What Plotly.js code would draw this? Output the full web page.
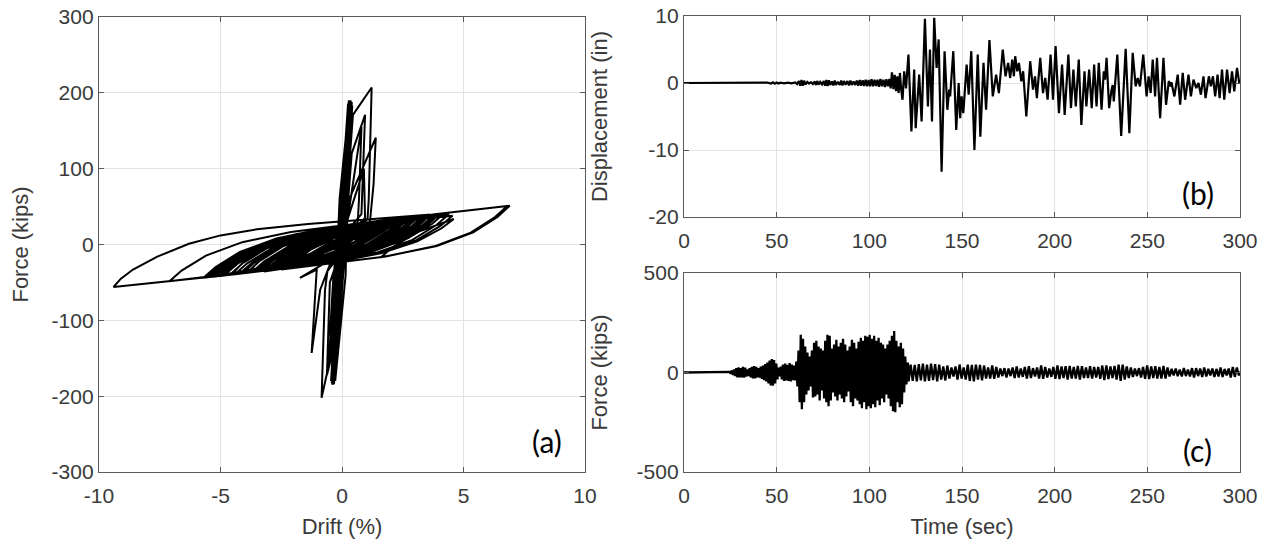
<!DOCTYPE html>
<html>
<head>
<meta charset="utf-8">
<script src="https://cdn.plot.ly/plotly-3.0.1.min.js"></script>
<style>
html,body{margin:0;padding:0;background:#fff;}
#chart{width:1270px;height:545px;}
</style>
</head>
<body>
<div id="chart"></div>
<script>
// ---------- (a) Hysteresis: [drift %, force kips] in time order ----------
var hysStiffPhase = [
[0,0],[0.02,18],[-0.02,-20],[0.03,28],[-0.03,-27],[0.05,40],[-0.04,-38],[0.07,55],[-0.06,-50],[0.09,68],[-0.08,-66],[0.06,50],[-0.06,-48],[0.05,42],[-0.05,-45],[0.07,58],[-0.08,-70],
[0.15,110],[-0.2,-150],[0.12,40],[0.28,190],[0.1,20],[-0.33,-184],[0.22,170],[-0.25,-150],[0.18,130],[-0.15,-110],[0.12,100],[-0.1,-90],[0.15,120],[-0.18,-125],[0.05,-5],[0.22,160],[-0.12,-20],[-0.2,-150],[0.3,190],[-0.08,0],[-0.3,-170],[0.1,20],[0.28,185],[-0.25,-140],[0.2,120],[-0.2,-110],[0.24,140],[-0.28,-150],[0.08,10],[0.26,165],[-0.3,-160],[0.2,130],[-0.18,-120],[0.28,170],[-0.15,-40],[-0.32,-170],[0.3,180],[-0.3,-165],[0.25,150],[-0.27,-160],[0.14,30],[0.32,189],[-0.1,-5],[-0.35,-180],[0.28,175],[-0.3,-175],[0.31,185],[-0.36,-185],[0.27,170],[-0.28,-165],[0.12,25],[0.3,178],[-0.33,-178],[0.24,150],[-0.3,-172],[0.33,188],[-0.05,10],[-0.37,-183],[0.22,140],[-0.25,-130],[0.3,185],
[0.36,185],[-0.02,-30],[-0.4,-175],[0.0,40],[0.35,180],[-0.12,-60],[-0.38,-182],[0.05,60],[0.34,186],[-0.15,-80],[-0.34,-170],[0.08,70],[0.38,188],[-0.05,-20],[-0.42,-178],[0.15,90],[0.32,175],[-0.2,-100],[-0.3,-160],[0.18,110],[0.3,170],[-0.25,-120],[-0.35,-176],[-0.05,30],[0.25,160],[0.02,-10],[-0.28,-168],[0.2,140],[0.36,190],[-0.08,-40],[-0.4,-185],[0.1,80],[0.37,186],[0.0,-50],[-0.36,-180],[0.16,60],[0.33,182],[-0.18,-40],[-0.39,-178],[0.22,100],[0.35,188],[-0.1,-110],[-0.33,-182],
[0.42,183],[0.1,-20],[-0.3,-178],[-0.12,20],[0.4,188],[0.2,30],[-0.45,-180],[0.05,90],[0.25,186],[-0.22,-30],[-0.42,-183],[-0.1,60],[0.3,187],[0.15,-40],[-0.28,-180],[0.0,80],[0.4,185],[-0.05,-80],[-0.44,-176],[0.2,110],[0.36,188],[-0.3,-120],[-0.38,-180],[0.3,150],[0.4,186]
];
var hysTransition = [
[-0.35,-178],[0.45,171],[1.22,207],[1.1,60],[1.05,33],[0.3,20],[-0.3,-25],[-0.55,-160],[-0.84,-202],[-0.7,-60],[-0.6,-35],[0.1,-5],[0.4,120],[0.95,171],[0.8,40],[0.4,25],[-0.2,-15],[-1.73,-44],[-1.04,-33],[-1.25,-143],[-0.9,-60],[-0.3,-10],[0.3,60],[1.39,141],[1.3,80],[1.15,30],[0.5,22],[-0.3,-30],[-0.45,-150],[-0.62,-172],[-0.5,-50],[0.1,5],[0.6,110],[0.8,155],[0.7,60],[0.65,30],[-0.2,-20],[-0.5,-120],[-0.35,-40],[0.2,30],[0.9,100],[0.95,35]
];
var hysSlidingPhase = [
[0.45,19.6],[-0.55,-2.0],[-1.8,-18.6],
[-1.3,-7.2],[-0.3,8.9],[1.25,24.2],[0.5,6.4],[1.0,13.5],[2.0,24.3],[3.0,31.9],
[2.5,18.8],[1.5,0.4],[0,-16.1],[-2,-28.7],[-5.15,-41.7],
[-4.65,-27.7],[-3.65,-7.9],[-2.15,9.9],[-0.15,23.4],[1.4,30.6],
[0.9,16.6],[-0.1,-3.1],[-1.6,-20.7],[-4.8,-39.2],
[-4.3,-25.4],[-3.3,-6.0],[-1.8,11.4],[0.9,27.8],
[0.4,14.0],[-0.6,-5.3],[-2.1,-22.5],[-4.1,-35.4],
[-3.6,-21.9],[-2.6,-3.0],[-1.1,14.1],[0.9,27.2],[3.9,40.2],[6.8,50.8],
[6.3,36.2],[5.3,15.7],[3.8,-2.4],[1.8,-15.8],[-2.5,-33.0],
[-2.0,-18.8],[-1.0,1.2],[0.5,19.1],[3.55,37.6],
[3.05,23.6],[2.05,3.9],[0.55,-13.6],[-1.45,-26.6],[-4.1,-37.8],
[-3.6,-23.8],[-2.6,-4.0],[-1.1,13.6],[0.9,27.0],[3.9,40.1],[6.9,51.1],
[6.4,36.4],[5.4,16.0],[3.9,-2.0],[1.6,-16.9],
[2.1,-3.1],[3.1,16.3],[4.6,33.7],
[4.1,21.4],[3.1,4.1],[1.6,-11.5],[-0.4,-23.6],[-4.4,-39.2],[-9.4,-56.0],
[-9.1,-45],[-8.6,-33],[-7.6,-16],[-6.3,1],[-5.0,12],[-3.5,20],[-1.4,27],[3.4,38.9],
[2.9,24.5],[1.9,4.2],[0.4,-13.7],[-2.85,-32.8],
[-2.35,-18.9],[-1.35,0.6],[0.15,18.1],[3.4,37.4],
[2.9,23.4],[1.9,3.6],[0.4,-14.0],[-1.6,-27.1],[-5.0,-41.4],
[-4.5,-27.3],[-3.5,-7.4],[-2.0,10.4],[1.95,27.5],
[1.45,14.7],[0.45,-3.4],[-1.25,-21.3],
[-0.75,-8.8],[0.25,8.8],[1.75,24.8],[3.4,35.6],
[2.9,22.0],[1.9,2.8],[0.4,-14.4],[-1.6,-27.2],[-7.1,-48.4],
[-6.6,-34.4],[-5.6,-14.6],[-4.1,3.1],[-2.1,16.5],[3.0,37.4],
[2.5,23.0],[1.5,2.8],[0,-15.1],[-2,-28.3],[-5.7,-43.7],
[-5.2,-29.6],[-4.2,-9.8],[-2.7,8.0],[-0.7,21.4],[2.1,33.6],
[1.6,19.4],[0.6,-0.5],[-0.9,-18.2],[-2.85,-30.7],
[-2.35,-17.3],[-1.35,1.6],[0.15,18.5],[2.15,29.5],[4.55,38],
[4.05,24.5],[3.05,5.5],[1.55,-11],[-1.4,-27.8],
[-0.9,-13.9],[0.1,5.7],[1.6,23.2],[3.55,36.2],
[3.05,22.6],[2.05,3.3],[0.7,-12.6],
[1.2,-0.6],[2.0,13.6],[2.8,23.7],
[2.3,12.5],[1.3,-3.5],[-0.2,-18.2],[-3.55,-35.6],
[-3.05,-21.7],[-2.05,-2.0],[-0.55,15.6],[2.3,33.1],
[1.8,19.1],[0.8,-0.4],[-1.6,-24.5],
[-1.1,-11.6],[-0.1,6.7],[1.4,23.2],[2.7,32.3],
[2.2,18.9],[1.2,0.1],[-1.8,-26.9],
[-1.3,-13.6],[-0.3,5.3],[1.2,22.2],[3.0,34.2],
[2.5,20.6],[1.5,1.4],[0,-15.7],[-1.8,-27.5],
[-1.3,-14.0],[-0.3,5.0],[1.2,22.1],[3.9,38.6],
[3.4,24.6],[2.4,5.0],[0.9,-12.4],[-1.1,-25.5],[-3.2,-35.5],
[-2.7,-21.3],[-1.7,-1.3],[-0.2,16.6],[1.95,30.9],
[1.45,17.3],[0.45,-2.0],[-1.05,-19.1],[-3.4,-33.7],
[-2.9,-20.1],[-1.9,-0.9],[-0.4,16.4],[3.0,36.1],
[2.5,22.0],[1.5,2.2],[0,-15.3],[-2.5,-30.8],
[-2,-17.1],[-1,2.2],[0.5,19.5],[2.5,32.7],
[2.0,19.0],[1.0,-0.2],[-0.5,-17.3],[-2.5,-30.2],[-4.4,-38.8],
[-3.9,-24.8],[-2.9,-5.1],[-1.4,12.6],[1.25,29.2],
[0.75,15.4],[-0.25,-4.0],[-2.5,-27.0],
[-2,-14.3],[-1,3.8],[0.5,20.2],[2.1,30.8],
[1.6,17.3],[0.6,-1.7],[-0.9,-18.8],[-2.8,-31.0],
[-2.3,-17.5],[-1.3,1.5],[0.2,18.6],[2.1,30.8],
[1.6,17.3],[0.6,-1.7],[-0.9,-18.8],[-2.5,-28.9],
[-2,-15.7],[-1,3.0],[0.5,19.9],[2.7,33.8],
[2.2,20.1],[1.2,0.7],[-0.3,-16.6],[-2.7,-31.4],
[-2.2,-17.8],[-1.2,1.5],[0.3,18.8],[3.0,35.4],
[2.5,21.5],[1.5,1.9],[0,-15.5],[-2,-28.5],[-5.6,-43.5],
[-5.1,-29.4],[-4.1,-9.5],[-2.6,8.3],[-0.6,21.7],[3.6,39.6],
[3.1,25.1],[2.1,4.8],[0.6,-13.0],[-1.4,-26.3],[-5.3,-42.5],
[-4.8,-28.4],[-3.8,-8.5],[-2.3,9.3],[-0.3,22.8],[3.2,38.1],
[2.7,23.6],[1.7,3.4],[0.2,-14.4],[-1.4,-25.5],
[-0.9,-12.2],[0.1,6.6],[1.6,23.6],[2.5,30.3],
[2,17.2],[1,-1.2],[-0.5,-17.8],[-2.3,-29.3],
[-1.8,-15.8],[-0.8,3.2],[0.7,20.4],[2.7,33.5],
[2.2,19.8],[1.2,0.6],[-0.3,-16.6],[-2.3,-29.5],[-3.7,-36.3],
[-3.2,-22.3],[-2.2,-2.6],[-0.7,15.0],[2.7,35.0],
[2.2,21.0],[1.2,1.2],[-0.3,-16.3],[-2.3,-29.4],
[-1.8,-15.9],[-0.8,3.2],[1.1,23.5],
[0.6,11.0],[-0.4,-6.8],[-1.4,-18.4],
[-0.9,-6.8],[0.1,9.7],[0.9,18.9],
[0.4,7.3],[-0.6,-9.2],[-2.3,-25.7],
[-1.8,-13.1],[-0.8,4.8],[1.0,23.4],
[0.5,10.8],[-0.5,-7.0],[-1.6,-21.1],[-1.1,-9.0],[-0.1,8.1],[1.5,24.6],[1.0,12.1],[0,-5.6],
[0.5,8],[1.5,22],[2.5,31],[3.8,38.5],
[3.3,24],[2.3,5],[0.8,-12],[-1.2,-24],[-4.6,-39.5],
[-4.1,-25],[-3.1,-5],[-1.6,12],[0.4,25],[4.2,41],
[3.7,27],[2.7,8],[1.2,-10],[-0.8,-23],[-5.4,-42.5],
[-4.9,-28],[-3.9,-8],[-2.4,9.5],[-0.4,22],[2.4,33],
[1.9,18],[0.9,-2],[-0.6,-19],[-3.9,-37],
[-3.4,-22],[-2.4,-2],[-0.9,15],[1.1,28],[3.3,37],
[2.8,22],[1.8,2],[0.3,-15],[-1.7,-28],[-4.9,-41],
[-4.4,-26],[-3.4,-6],[-1.9,11],[0.1,24],[4.0,40],
[3.5,25],[2.5,6],[1.0,-11],[-2.0,-29],
[-1.5,-16],[-0.5,3],[1.6,26],
[1.1,13],[0.1,-5],[-1.4,-21],[-3.0,-33],
[-2.5,-19],[-1.5,0],[0,17],[2.9,34],
[2.4,20],[1.4,1],[-0.1,-16],[-2.1,-29],[-4.2,-38],
[-3.7,-24],[-2.7,-4],[-1.2,13],[0.5,24],
[0,11],[-1.0,-10],[-0.5,0],[0.3,12],[-0.5,-8],
[0,3],[1,18],[2,29],[3.6,38],
[3.1,23],[2.1,3],[0.6,-14],[-1.4,-27],[-5.0,-41],
[-4.5,-24],[-3.5,-3],[-2,13],[0,25],[3.0,36],
[2.5,21],[1.5,1],[0,-16],[-3.3,-35],
[-2.8,-20],[-1.8,-1],[-0.3,16],[1.7,29],[4.4,40],
[3.9,26],[2.9,6],[1.4,-11],[-0.6,-24],[-5.5,-42],
[-5.0,-30],[-4.0,-11],[-2.5,6],[-0.5,19],[2.0,31],
[1.5,16],[0.5,-3],[-1.0,-20],[-4.5,-38],
[-4.0,-21],[-3.0,-1],[-1.5,15],[0.5,27],[3.8,39],
[3.3,25],[2.3,5],[0.8,-12],[-2.5,-31],
[-2,-16],[-1,1],[0,12]
];

// ---------- (b) Displacement history: [time s, displacement in] ----------
var dispHistory = [
[0,0],[20,0],[40,0],[45,0.05],[47,-0.08],[48,0.1],[49,-0.1],[50,0.08],[51,-0.07],[52,0.05],[54,-0.05],[56,0.06],[58,-0.05],[60,0.08],[61,-0.15],[62,0.3],[62.7,-0.4],[63.4,0.45],[64.1,-0.4],[64.8,0.35],[65.5,-0.25],[66.5,0.15],[67.5,-0.1],[68.5,0.12],[69.5,-0.15],[70.5,0.25],[71.2,-0.3],[71.9,0.3],[72.6,-0.25],[73.5,0.15],[74.5,-0.2],[75.4,0.3],[76.1,-0.4],[76.8,0.45],[77.5,-0.45],[78.2,0.4],[78.9,-0.3],[79.8,0.25],[80.6,-0.35],[81.3,0.35],[82,-0.3],[83,0.2],[84,-0.3],[84.8,0.35],[85.5,-0.35],[86.3,0.3],[87.2,-0.25],[88.2,0.3],[89,-0.35],[89.8,0.35],[90.6,-0.3],[91.5,0.25],[92.4,-0.3],[93.2,0.35],[94,-0.4],[94.8,0.45],[95.6,-0.4],[96.4,0.4],[97.2,-0.45],[98,0.5],[98.8,-0.5],[99.6,0.45],[100.4,-0.5],[101.2,0.55],[102,-0.5],[102.8,0.5],[103.6,-0.45],[104.4,0.5],[105.2,-0.55],[106,0.6],[106.8,-0.5],[107.6,0.5],[108.4,-0.6],[109.2,0.55],[110,-0.5],[110.8,0.6],[111.5,-0.8],[112.2,1.6],[113,-0.9],[113.7,1.2],[114.4,-1.2],[115.1,1.0],[115.8,-1.5],[116.5,1.5],[117.2,-1.0],[117.9,-2.5],[118.8,1.75],[119.8,-0.8],[121.1,4.25],[122.7,-7.25],[124.2,2],[125,-6.75],[126.9,1.25],[128.2,-5.75],[130,9.6],[131.6,-3.5],[132.7,5],[133.8,-5.75],[135,9.75],[136.3,2.25],[137.4,6.5],[139,-13.25],[140.6,4.75],[142.1,-4],[143.1,-1],[143.6,-2],[145.3,4.75],[146.9,-7],[148.2,0],[149,-5.25],[149.8,-2],[150.7,-4.5],[152.5,2.75],[153.6,-1.75],[155,4.75],[156.7,-10],[158.5,4.25],[159.9,-8],[161.6,3],[163,-4],[164.8,6.4],[166.6,-2],[168.4,1.25],[169.9,-1.5],[172,5],[173.5,1],[174.9,3],[176,0.75],[177.1,3.5],[178,1],[178.7,4],[179.8,1.75],[180.7,3],[182,0.25],[183,1.75],[184.7,-5],[186.8,3.25],[188.3,-1],[189.4,1],[190.4,-2.25],[192.2,3.75],[193.7,-1.5],[194.9,0.75],[196.2,-2.5],[197.8,4.25],[199.1,-2.5],[200.5,5.5],[202.3,-4.5],[204,2.75],[205.4,-4.75],[207.4,4.25],[208.8,-3.75],[210.1,2],[211.4,-3.5],[213,3.5],[214.4,-6.25],[216.1,1.75],[217.1,-3.5],[218.6,2],[220,-3.75],[221.3,2.75],[222.6,-3.5],[223.8,3],[225.3,-4],[226.5,1.75],[227.2,0.5],[228,3.75],[229.4,-3.75],[230.7,-1],[231.3,-0.3],[231.9,-2.75],[233.8,4.25],[235.9,-7.9],[238.3,5.1],[240.3,-7.5],[242.1,4.5],[243.7,-0.5],[244.8,0.75],[246,-0.5],[247.8,4.25],[249.6,-2],[250.7,1],[251.8,-1.5],[252.9,3.5],[254.2,-2],[255.2,3.75],[256.9,-5.25],[258.7,3.75],[260.1,-3.25],[261.6,0.3],[262.4,-0.5],[263,0.1],[264.6,-2],[266.4,1.25],[267.7,-3.25],[269.1,1.5],[270.4,-2.5],[272.2,1.25],[273.5,-2],[274.9,0.5],[276.4,-0.75],[277.6,0],[278.9,-1.75],[280.3,1],[281.4,-2.25],[283.2,1],[284.3,-0.5],[285.4,1],[286.6,-2],[287.9,1.25],[289,-2.25],[290.3,2],[291.5,-2.5],[293,2],[294.4,-1.5],[295.7,1.75],[296.9,-1.25],[298.4,2.25],[299.6,0],[300,0.2]
];

// ---------- (c) Force history: [time s, force kips] ----------
var forceHistory = [
[0,0],[24,0],[24.6,3],[25.2,-5],[25.8,10],[26.4,-12],[27,15],[27.6,-18],[28.2,22],[28.8,-25],[29.4,26],[30,-24],[30.6,22],[31.2,-25],[31.8,28],[32.4,-26],[33,24],[33.6,-20],[34.2,15],[34.8,-18],[35.4,22],[36,-25],[36.6,28],[37.2,-30],[37.8,32],[38.4,-30],[39,28],[39.6,-25],[40.2,22],[40.8,-26],[41.4,30],[42,-32],[42.6,35],[43.2,-38],[43.8,42],[44.4,-45],[45,50],[45.6,-55],[46.2,60],[46.8,-65],[47.4,68],[48,-66],[48.6,62],[49.2,-55],[49.8,45],[50.4,-35],[51,25],[51.6,-20],[52.2,30],[52.8,-35],[53.4,40],[54,-42],[54.6,45],[55.2,-40],[55.8,38],[56.4,-42],[57,48],[57.6,-45],[58.2,40],[58.8,-38],[59.4,35],[60,-40],[60.6,55],[61.2,-70],[61.8,110],[62.4,-150],[63,190],[63.6,-184],[64.2,170],[64.8,-150],[65.4,130],[66,-110],[66.6,100],[67.2,-90],[67.8,80],[68.4,-70],[69,110],[69.6,-125],[70.2,150],[70.8,-120],[71.4,160],[72,-110],[72.6,130],[73.2,-140],[73.8,120],[74.4,-90],[75,110],[75.6,-130],[76.2,160],[76.8,-150],[77.4,190],[78,-170],[78.6,185],[79.2,-140],[79.8,120],[80.4,-100],[81,140],[81.6,-120],[82.2,165],[82.8,-140],[83.4,130],[84,-110],[84.6,150],[85.2,-130],[85.8,170],[86.4,-150],[87,140],[87.6,-120],[88.2,110],[88.8,-95],[89.4,130],[90,-150],[90.6,165],[91.2,-170],[91.8,150],[92.4,-130],[93,120],[93.6,-140],[94.2,155],[94.8,-160],[95.4,175],[96,-180],[96.6,160],[97.2,-150],[97.8,185],[98.4,-185],[99,180],[99.6,-170],[100.2,190],[100.8,-180],[101.4,170],[102,-160],[102.6,185],[103.2,-175],[103.8,160],[104.4,-140],[105,175],[105.6,-165],[106.2,150],[106.8,-130],[107.4,140],[108,-150],[108.6,120],[109.2,-110],[109.8,140],[110.4,-130],[111,160],[111.6,-170],[112.2,185],[112.8,-195],[113.4,208],[114,-200],[114.6,160],[115.2,-150],[115.8,130],[116.4,-175],[117,150],[117.6,-160],[118.2,120],[118.8,-100],[119.4,80],[120,-60],[120.8,50],
[121.2,-45],[122.3,40],[123.4,-42],[124.5,38],[125.6,-45],[126.7,42],[127.8,-40],[128.9,45],[130,-45],[131.1,40],[132.2,-42],[133.3,45],[134.4,-38],[135.5,42],[136.6,-45],[137.7,40],[138.8,-35],[139.9,30],[141,-40],[142.1,35],[143.2,-30],[144.3,25],[145.4,-20],[146.5,30],[147.6,-35],[148.7,40],[149.8,-30],[150.9,25],[152,-35],[153.1,40],[154.2,-42],[155.3,38],[156.4,-45],[157.5,40],[158.6,-35],[159.7,38],[160.8,-40],[161.9,35],[163,-30],[164.1,25],[165.2,-30],[166.3,35],[167.4,-32],[168.5,28],[169.6,-25],[170.7,20],[171.8,-18],[172.9,22],[174,-25],[175.1,20],[176.2,-18],[177.3,25],[178.4,-28],[179.5,30],[180.6,-25],[181.7,20],[182.8,-22],[183.9,28],[185,-30],[186.1,32],[187.2,-28],[188.3,22],[189.4,-20],[190.5,25],[191.6,-30],[192.7,35],[193.8,-32],[194.9,28],[196,-25],[197.1,20],[198.2,-22],[199.3,28],[200.4,-32],[201.5,35],[202.6,-33],[203.7,30],[204.8,-28],[205.9,32],[207,-35],[208.1,33],[209.2,-30],[210.3,28],[211.4,-30],[212.5,33],[213.6,-35],[214.7,32],[215.8,-28],[216.9,25],[218,-28],[219.1,32],[220.2,-30],[221.3,28],[222.4,-25],[223.5,28],[224.6,-32],[225.7,35],[226.8,-38],[227.9,36],[229,-33],[230.1,30],[231.2,-28],[232.3,33],[233.4,-36],[234.5,40],[235.6,-42],[236.7,40],[237.8,-35],[238.9,30],[240,-28],[241.1,25],[242.2,-22],[243.3,20],[244.4,-18],[245.5,22],[246.6,-25],[247.7,28],[248.8,-32],[249.9,35],[251,-33],[252.1,30],[253.2,-28],[254.3,32],[255.4,-30],[256.5,28],[257.6,-30],[258.7,33],[259.8,-30],[260.9,25],[262,-20],[263.1,18],[264.2,-15],[265.3,20],[266.4,-18],[267.5,15],[268.6,-20],[269.7,22],[270.8,-18],[271.9,15],[273,-20],[274.1,22],[275.2,-25],[276.3,22],[277.4,-18],[278.5,20],[279.6,-22],[280.7,25],[281.8,-20],[282.9,18],[284,-15],[285.1,20],[286.2,-22],[287.3,18],[288.4,-20],[289.5,25],[290.6,-22],[291.7,18],[292.8,-15],[293.9,20],[295,-25],[296.1,28],[297.2,-22],[298.3,25],[299.4,-15],[300,5]
];

// ---------- tick values and labels ----------
var panelLabels = ["(a)", "(b)", "(c)"];
var driftTicks = [-10, -5, 0, 5, 10];
var driftTickText = ["-10", "-5", "0", "5", "10"];
var forceTicksA = [-300, -200, -100, 0, 100, 200, 300];
var forceTickTextA = ["-300", "-200", "-100", "0", "100", "200", "300"];
var timeTicks = [0, 50, 100, 150, 200, 250, 300];
var timeTickText = ["0", "50", "100", "150", "200", "250", "300"];
var dispTicks = [-20, -10, 0, 10];
var dispTickText = ["-20", "-10", "0", "10"];
var forceTicksC = [-500, 0, 500];
var forceTickTextC = ["-500", "0", "500"];

function col(arr, i) { return arr.map(function (p) { return p[i]; }); }
var hysAll = hysStiffPhase.concat(hysTransition, hysSlidingPhase);

var traces = [
  {x: col(hysAll, 0), y: col(hysAll, 1), type: 'scatter', mode: 'lines', line: {color: '#000', width: 2.0}, xaxis: 'x', yaxis: 'y'},
  {x: col(dispHistory, 0), y: col(dispHistory, 1), type: 'scatter', mode: 'lines', line: {color: '#000', width: 2.2}, xaxis: 'x2', yaxis: 'y2'},
  {x: col(forceHistory, 0), y: col(forceHistory, 1), type: 'scatter', mode: 'lines', line: {color: '#000', width: 2.3}, xaxis: 'x3', yaxis: 'y3'}
];

var tickFont = {family: 'Liberation Sans, Arial, sans-serif', size: 21, color: '#3a3a3a'};
var titleFont = {family: 'Liberation Sans, Arial, sans-serif', size: 22, color: '#3a3a3a'};
function ax(extra) {
  var base = {
    showgrid: true, gridcolor: '#e3e3e3', gridwidth: 1,
    zeroline: false, showline: true, linecolor: '#5a5a5a', linewidth: 1.2,
    mirror: 'allticks', ticks: 'inside', ticklen: 5, tickcolor: '#5a5a5a',
    tickfont: tickFont, automargin: false, tickmode: 'array'
  };
  for (var k in extra) base[k] = extra[k];
  return base;
}

var layout = {
  width: 1270, height: 545,
  margin: {l: 0, r: 0, t: 0, b: 0},
  paper_bgcolor: '#ffffff', plot_bgcolor: '#ffffff',
  showlegend: false,
  xaxis: ax({domain: [99/1270, 585/1270], range: [-10, 10], tickvals: driftTicks, ticktext: driftTickText, anchor: 'y',
    ticklabelstandoff: 5, title: {text: 'Drift (%)', font: titleFont, standoff: 12}}),
  yaxis: ax({domain: [1 - 472/545, 1 - 17/545], range: [-300, 300], tickvals: forceTicksA, ticktext: forceTickTextA, anchor: 'x',
    title: {text: 'Force (kips)', font: titleFont, standoff: 16}}),
  xaxis2: ax({domain: [684/1270, 1240/1270], range: [0, 300], tickvals: timeTicks, ticktext: timeTickText, anchor: 'y2',
    ticklabelstandoff: 5}),
  yaxis2: ax({domain: [1 - 217/545, 1 - 16/545], range: [-20, 10], tickvals: dispTicks, ticktext: dispTickText, anchor: 'x2',
    title: {text: 'Displacement (in)', font: titleFont, standoff: 34}}),
  xaxis3: ax({domain: [684/1270, 1240/1270], range: [0, 300], tickvals: timeTicks, ticktext: timeTickText, anchor: 'y3',
    ticklabelstandoff: 5, title: {text: 'Time (sec)', font: titleFont, standoff: 12}}),
  yaxis3: ax({domain: [1 - 472/545, 1 - 273/545], range: [-500, 500], tickvals: forceTicksC, ticktext: forceTickTextC, anchor: 'x3',
    title: {text: 'Force (kips)', font: titleFont, standoff: 22}}),
  annotations: [
    {text: panelLabels[0], xref: 'paper', yref: 'paper', x: 547/1270, y: 1 - 441/545, showarrow: false,
     font: {family: 'Lato, Open Sans, sans-serif', size: 30, color: '#000'}, xanchor: 'center', yanchor: 'middle'},
    {text: panelLabels[1], xref: 'paper', yref: 'paper', x: 1198/1270, y: 1 - 193/545, showarrow: false,
     font: {family: 'Lato, Open Sans, sans-serif', size: 30, color: '#000'}, xanchor: 'center', yanchor: 'middle'},
    {text: panelLabels[2], xref: 'paper', yref: 'paper', x: 1197/1270, y: 1 - 450/545, showarrow: false,
     font: {family: 'Lato, Open Sans, sans-serif', size: 30, color: '#000'}, xanchor: 'center', yanchor: 'middle'}
  ]
};

Plotly.newPlot('chart', traces, layout, {staticPlot: true, displayModeBar: false});
</script>
</body>
</html>
